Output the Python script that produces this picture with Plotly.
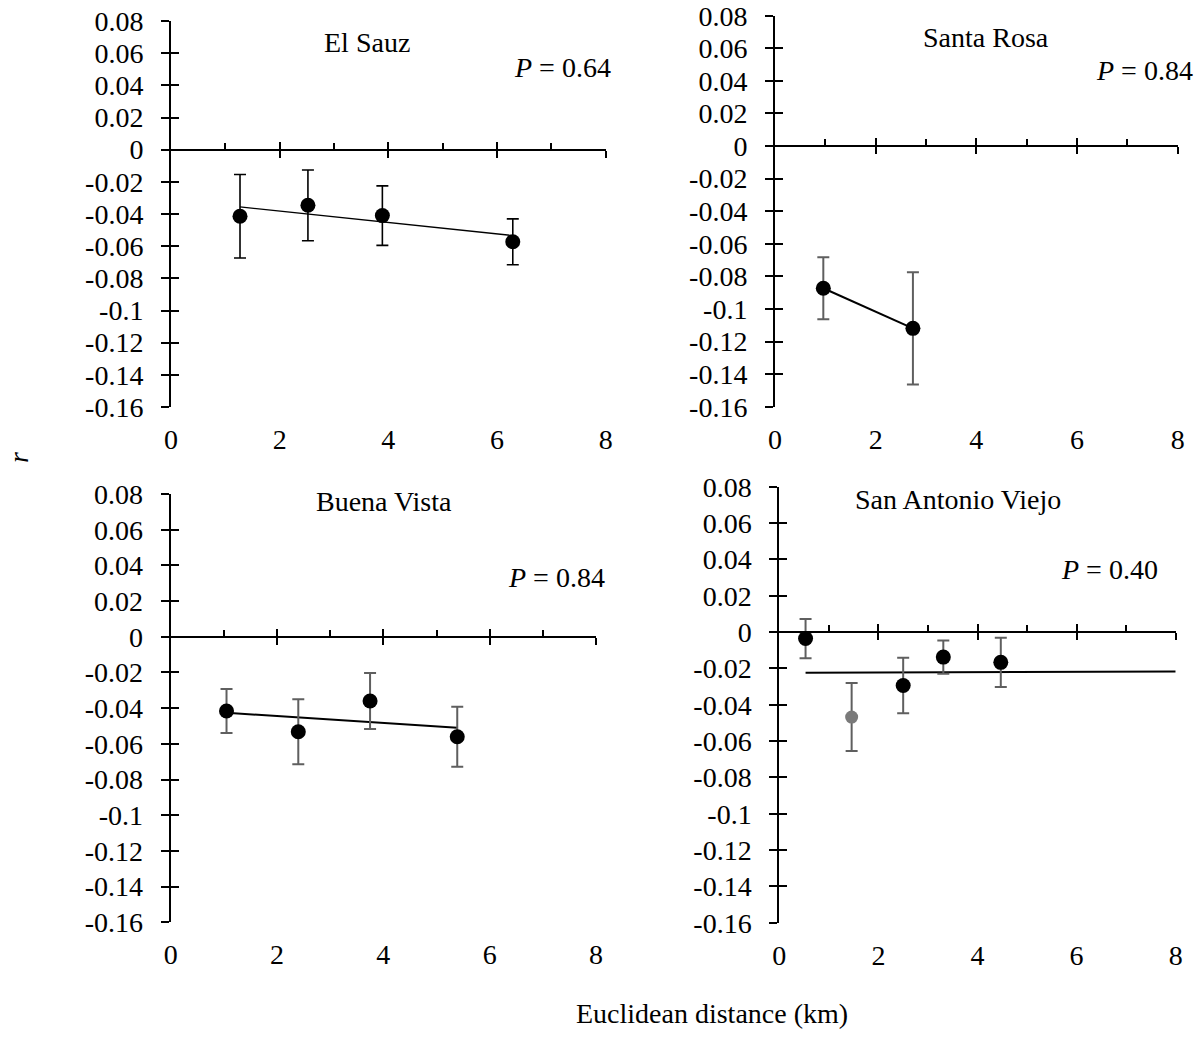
import plotly.graph_objects as go

W, H = 1204, 1057
FONT = "Liberation Serif, Times New Roman, serif"

# ---- data: mean kinship coefficient r per distance class (±SE) ----
sauz_x = [1.27, 2.52, 3.89, 6.29]
sauz_r = [-0.0414, -0.0346, -0.0410, -0.0573]
sauz_err = [0.026, 0.022, 0.0185, 0.0143]
sauz_trend_x = [1.27, 6.29]
sauz_trend_r = [-0.0356, -0.0534]

rosa_x = [0.96, 2.74]
rosa_r = [-0.0873, -0.1119]
rosa_err = [0.019, 0.0345]
rosa_trend_x = [0.96, 2.74]
rosa_trend_r = [-0.0873, -0.1119]

vista_x = [1.05, 2.40, 3.75, 5.39]
vista_r = [-0.0416, -0.0532, -0.0360, -0.0560]
vista_err = [0.0123, 0.0182, 0.0157, 0.0168]
vista_trend_x = [1.05, 5.39]
vista_trend_r = [-0.0426, -0.0510]

viejo_x = [0.53, 1.46, 2.50, 3.31, 4.47]
viejo_r = [-0.0036, -0.0468, -0.0294, -0.0138, -0.0167]
viejo_err = [0.0108, 0.0187, 0.0153, 0.0091, 0.0135]
viejo_trend_x = [0.53, 8.0]
viejo_trend_r = [-0.0224, -0.0217]

site_names = ["El Sauz", "Santa Rosa", "Buena Vista", "San Antonio Viejo"]
p_labels = ["0.64", "0.84", "0.84", "0.40"]

y_ticks = [-0.16, -0.14, -0.12, -0.1, -0.08, -0.06, -0.04, -0.02, 0, 0.02, 0.04, 0.06, 0.08]
y_ticktext = ["-0.16", "-0.14", "-0.12", "-0.1", "-0.08", "-0.06", "-0.04", "-0.02",
              "0", "0.02", "0.04", "0.06", "0.08"]
x_ticks = [0, 2, 4, 6, 8]
x_minor = [1, 3, 5, 7]
Y_RANGE = [-0.16, 0.08]
X_RANGE = [0, 8]
TICK_FONT = dict(family=FONT, size=28, color="black")


def px_x(v):
    return v / W


def px_y(v):
    return 1 - v / H


# plot-area boxes in pixels: (left, right, top, bottom)
boxes = [
    (171, 605.7, 21, 407),
    (775, 1177.7, 15.7, 406.7),
    (170.7, 596, 494, 922.3),
    (779.3, 1175.7, 486.7, 922.7),
]

panels = [
    dict(x=sauz_x, r=sauz_r, err=sauz_err, tx=sauz_trend_x, tr=sauz_trend_r,
         ecol="black", ewidth=1.6, lwidth=1.3, colors=["black"] * 4),
    dict(x=rosa_x, r=rosa_r, err=rosa_err, tx=rosa_trend_x, tr=rosa_trend_r,
         ecol="#5f5f5f", ewidth=2, lwidth=2, colors=["black"] * 2),
    dict(x=vista_x, r=vista_r, err=vista_err, tx=vista_trend_x, tr=vista_trend_r,
         ecol="#5f5f5f", ewidth=2, lwidth=2, colors=["black"] * 4),
    dict(x=viejo_x, r=viejo_r, err=viejo_err, tx=viejo_trend_x, tr=viejo_trend_r,
         ecol="#5f5f5f", ewidth=2, lwidth=2,
         colors=["black", "#7a7a7a", "black", "black", "black"]),
]

fig = go.Figure()
layout = {}

for i, (p, box) in enumerate(zip(panels, boxes), start=1):
    left, right, top, bottom = box
    xd = [px_x(left), px_x(right)]
    yd = [px_y(bottom), px_y(top)]
    xs = "" if i == 1 else str(i)

    # trend line
    fig.add_trace(go.Scatter(
        x=p["tx"], y=p["tr"], mode="lines",
        line=dict(color="black", width=p["lwidth"]),
        xaxis="x" + xs, yaxis="y" + xs, showlegend=False, hoverinfo="skip"))
    # means with error bars
    sizes = [15 if c == "black" else 13 for c in p["colors"]]
    fig.add_trace(go.Scatter(
        x=p["x"], y=p["r"], mode="markers",
        marker=dict(color=p["colors"], size=sizes, opacity=1, line=dict(width=0)),
        error_y=dict(type="data", array=p["err"], visible=True,
                     color=p["ecol"], thickness=p["ewidth"], width=6),
        xaxis="x" + xs, yaxis="y" + xs, showlegend=False))
    # empty traces so the overlay axes get drawn
    for xa in (str(i + 4), str(i + 8)):
        fig.add_trace(go.Scatter(x=[None], y=[None], mode="markers",
                                 xaxis="x" + xa, yaxis="y" + str(i + 4),
                                 showlegend=False, hoverinfo="skip"))

    # x axis carrying the labels at the bottom
    layout["xaxis" + xs] = dict(
        domain=xd, range=X_RANGE, anchor="y" + xs, showline=False, ticks="",
        tickmode="array", tickvals=x_ticks, showgrid=False, zeroline=False,
        automargin=False, ticklabelstandoff=13, tickfont=TICK_FONT)
    # y axis with crossing ticks (outside half)
    layout["yaxis" + xs] = dict(
        domain=yd, range=Y_RANGE, anchor="x" + xs, showline=True, linewidth=2,
        linecolor="black", ticks="outside", ticklen=8, tickwidth=2, tickcolor="black",
        tickmode="array", tickvals=y_ticks, ticktext=y_ticktext, showgrid=False,
        zeroline=False, automargin=False, ticklabelstandoff=12, tickfont=TICK_FONT)
    # inside half of the y ticks
    layout["yaxis" + str(i + 4)] = dict(
        overlaying="y" + xs, range=Y_RANGE, anchor="x" + xs, showline=False,
        ticks="inside", ticklen=8, tickwidth=2, tickcolor="black",
        tickmode="array", tickvals=y_ticks, showticklabels=False,
        showgrid=False, zeroline=False, automargin=False)
    # horizontal axis line through r = 0
    zero_pos = yd[0] + (0 - Y_RANGE[0]) / (Y_RANGE[1] - Y_RANGE[0]) * (yd[1] - yd[0])
    layout["xaxis" + str(i + 4)] = dict(
        overlaying="x" + xs, range=X_RANGE, anchor="free", position=zero_pos,
        side="bottom", showline=True, linewidth=2, linecolor="black",
        ticks="outside", ticklen=7, tickwidth=2, tickcolor="black",
        tickmode="array", tickvals=[2, 4, 6, 8], showticklabels=False,
        showgrid=False, zeroline=False, automargin=False,
        minor=dict(ticks="inside", ticklen=6, tickwidth=2, tickcolor="black",
                   tickmode="array", tickvals=x_minor, showgrid=False))
    layout["xaxis" + str(i + 8)] = dict(
        overlaying="x" + xs, range=X_RANGE, anchor="free", position=zero_pos,
        side="bottom", showline=False, ticks="inside", ticklen=8, tickwidth=2,
        tickcolor="black", tickmode="array", tickvals=[2, 4, 6, 8],
        showticklabels=False, showgrid=False, zeroline=False, automargin=False)

# site names and P values
title_pos = [(366.7, 43), (986, 38), (384, 501.7), (958, 499)]
p_pos = [(613, 68), (1195, 70), (606.7, 577), (1160, 569)]
annotations = []
for name, (tx, ty) in zip(site_names, title_pos):
    annotations.append(dict(text=name, x=px_x(tx), y=px_y(ty), xref="paper", yref="paper",
                            xanchor="center", yanchor="middle", showarrow=False,
                            font=dict(family=FONT, size=28, color="black")))
for lab, (tx, ty) in zip(p_labels, p_pos):
    annotations.append(dict(text="<i>P</i> = " + lab, x=px_x(tx), y=px_y(ty),
                            xref="paper", yref="paper", xanchor="right", yanchor="middle",
                            showarrow=False, font=dict(family=FONT, size=28, color="black")))
annotations.append(dict(text="<i>r</i>", x=px_x(18), y=px_y(458), xref="paper", yref="paper",
                        xanchor="center", yanchor="middle", textangle=-90, showarrow=False,
                        font=dict(family=FONT, size=28, color="black")))
annotations.append(dict(text="Euclidean distance (km)", x=px_x(712), y=px_y(1013),
                        xref="paper", yref="paper", xanchor="center", yanchor="middle",
                        showarrow=False, font=dict(family=FONT, size=28, color="black")))

fig.update_layout(
    template="none",
    width=W, height=H, margin=dict(l=0, r=0, t=0, b=0, pad=0, autoexpand=False),
    font=dict(family=FONT, size=28, color="black"),
    paper_bgcolor="white", plot_bgcolor="white",
    annotations=annotations, showlegend=False, **layout)

fig.write_html("out.html")
